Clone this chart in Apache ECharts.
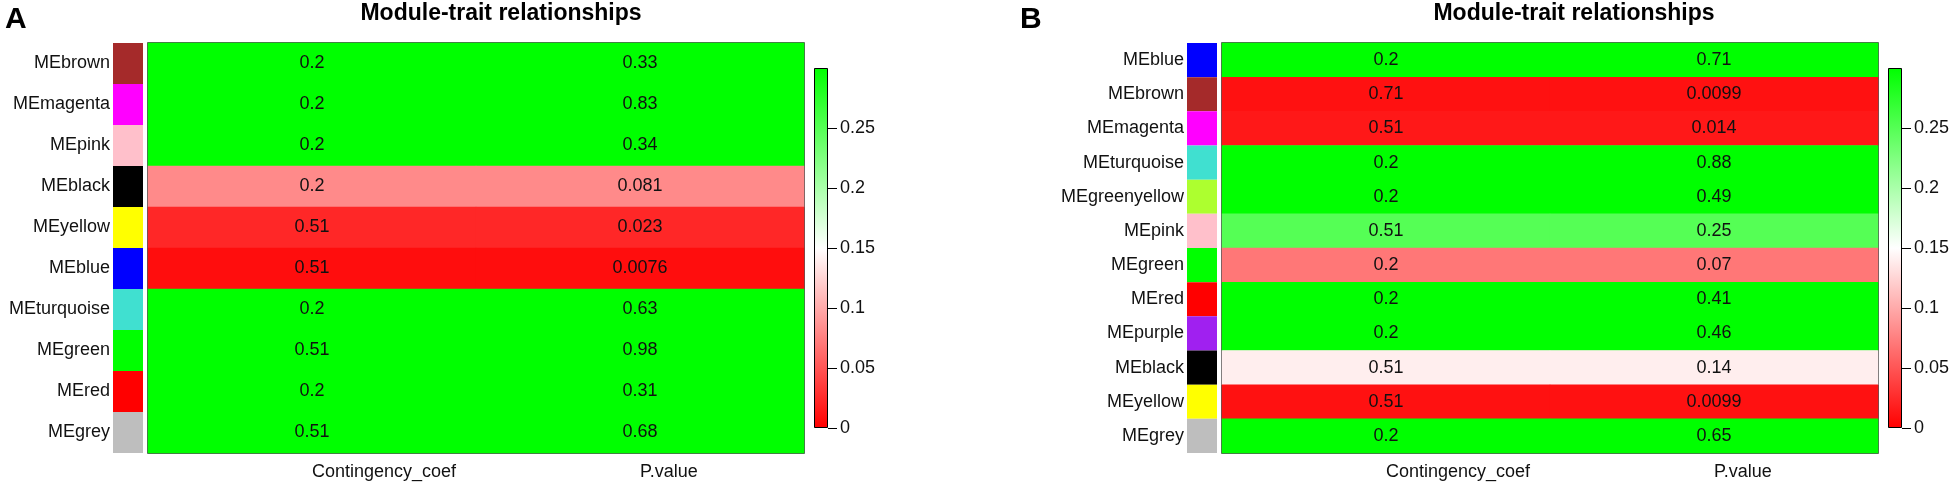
<!DOCTYPE html>
<html>
<head>
<meta charset="utf-8">
<script src="https://cdn.jsdelivr.net/npm/echarts@6/dist/echarts.min.js"></script>
<style>
  html, body { margin: 0; padding: 0; background: #fff; }
  #chart { width: 1955px; height: 486px; }
</style>
</head>
<body>
<div id="chart"></div>
<script>
// traits on the x axis (same for both panels)
const traits = ["Contingency_coef", "P.value"];

// panel A
const modulesA = ["MEbrown", "MEmagenta", "MEpink", "MEblack", "MEyellow", "MEblue", "MEturquoise", "MEgreen", "MEred", "MEgrey"];
const moduleColorsA = ["#a52a2a", "#ff00ff", "#ffc0cb", "#000000", "#ffff00", "#0000ff", "#40e0d0", "#00ff00", "#ff0000", "#bebebe"];
const coefA = [0.2, 0.2, 0.2, 0.2, 0.51, 0.51, 0.2, 0.51, 0.2, 0.51];
const pvalA = [0.33, 0.83, 0.34, 0.081, 0.023, 0.0076, 0.63, 0.98, 0.31, 0.68];

// panel B
const modulesB = ["MEblue", "MEbrown", "MEmagenta", "MEturquoise", "MEgreenyellow", "MEpink", "MEgreen", "MEred", "MEpurple", "MEblack", "MEyellow", "MEgrey"];
const moduleColorsB = ["#0000ff", "#a52a2a", "#ff00ff", "#40e0d0", "#adff2f", "#ffc0cb", "#00ff00", "#ff0000", "#a020f0", "#000000", "#ffff00", "#bebebe"];
const coefB = [0.2, 0.71, 0.51, 0.2, 0.2, 0.51, 0.2, 0.2, 0.2, 0.51, 0.51, 0.2];
const pvalB = [0.71, 0.0099, 0.014, 0.88, 0.49, 0.25, 0.07, 0.41, 0.46, 0.14, 0.0099, 0.65];

// colour scale (p value)
const scaleMin = 0;
const scaleMax = 0.3;
const scaleStep = 0.05;
const scaleColors = ["#ff0000", "#ffffff", "#00ff00"];

const FONT = "Liberation Sans, Arial, sans-serif";
const TXT = "#111";

// each row is coloured by its p value, text shows the cell value
function heatData(coef, pval) {
  const out = [];
  pval.forEach((p, row) => {
    out.push([0, row, p, coef[row]]);
    out.push([1, row, p, p]);
  });
  return out;
}

function panel(off, modules, colors, coef, pval, idx) {
  const g = idx * 3;
  const grids = [
    { left: off + 113, top: 43, width: 30, height: 410 },
    { left: off + 148, top: 43, width: 656, height: 410, show: true, borderColor: "#222", borderWidth: 1.5, backgroundColor: "transparent" },
    { left: off + 814, top: 68, width: 14, height: 360 },
  ];
  const xAxes = [
    { gridIndex: g, type: "value", min: 0, max: 1, show: false },
    {
      gridIndex: g + 1, type: "category", data: traits,
      axisLine: { show: false }, axisTick: { show: false },
      axisLabel: { align: "left", margin: 10, fontSize: 18, color: TXT, fontFamily: FONT },
    },
    { gridIndex: g + 2, type: "category", data: ["bar"], show: false },
  ];
  const yAxes = [
    {
      gridIndex: g, type: "category", data: modules, inverse: true,
      axisLine: { show: false }, axisTick: { show: false },
      axisLabel: { margin: 3, fontSize: 18, color: TXT, fontFamily: FONT },
    },
    { gridIndex: g + 1, type: "category", data: modules, inverse: true, show: false },
    {
      gridIndex: g + 2, type: "value", position: "right",
      min: scaleMin, max: scaleMax, interval: scaleStep,
      splitLine: { show: false }, axisLine: { show: false },
      axisTick: { show: true, length: 9, lineStyle: { color: "#000", width: 1 } },
      axisLabel: { showMaxLabel: false, margin: 12, fontSize: 18, color: TXT, fontFamily: FONT },
    },
  ];
  const series = [
    {
      type: "bar", xAxisIndex: g, yAxisIndex: g,
      barWidth: "100%", barCategoryGap: 0, silent: true,
      data: colors.map((c) => ({ value: 1, itemStyle: { color: c } })),
    },
    {
      type: "heatmap", xAxisIndex: g + 1, yAxisIndex: g + 1,
      data: heatData(coef, pval),
      label: {
        show: true, fontSize: 18, color: TXT, fontFamily: FONT,
        formatter: (p) => String(p.value[3]),
      },
      itemStyle: { borderWidth: 0 },
      emphasis: { disabled: true },
    },
    {
      type: "bar", xAxisIndex: g + 2, yAxisIndex: g + 2,
      barWidth: "100%", silent: true,
      data: [scaleMax],
      itemStyle: {
        borderColor: "#000", borderWidth: 1,
        color: new echarts.graphic.LinearGradient(0, 1, 0, 0, [
          { offset: 0, color: scaleColors[0] },
          { offset: 0.5, color: scaleColors[1] },
          { offset: 1, color: scaleColors[2] },
        ]),
      },
    },
  ];
  return { grids, xAxes, yAxes, series };
}

const pa = panel(0, modulesA, moduleColorsA, coefA, pvalA, 0);
const pb = panel(1074, modulesB, moduleColorsB, coefB, pvalB, 1);

const chart = echarts.init(document.getElementById("chart"), null, { renderer: "canvas" });

const option = {
  animation: false,
  backgroundColor: "#fff",
  grid: pa.grids.concat(pb.grids),
  xAxis: pa.xAxes.concat(pb.xAxes),
  yAxis: pa.yAxes.concat(pb.yAxes),
  visualMap: [
    {
      type: "continuous", show: false, seriesIndex: [1, 4], dimension: 2,
      min: scaleMin, max: scaleMax, inRange: { color: scaleColors },
    },
  ],
  series: pa.series.concat(pb.series),
  graphic: [
    { type: "text", left: 5, top: 5, style: { text: "A", font: "bold 30px " + FONT, fill: "#000" } },
    { type: "text", left: 1020, top: 5, style: { text: "B", font: "bold 30px " + FONT, fill: "#000" } },
    { type: "text", x: 501, y: 14, style: { text: "Module-trait relationships", font: "bold 23px " + FONT, fill: "#000", align: "center", verticalAlign: "middle" } },
    { type: "text", x: 1574, y: 14, style: { text: "Module-trait relationships", font: "bold 23px " + FONT, fill: "#000", align: "center", verticalAlign: "middle" } },
  ],
};

chart.setOption(option);
</script>
</body>
</html>
